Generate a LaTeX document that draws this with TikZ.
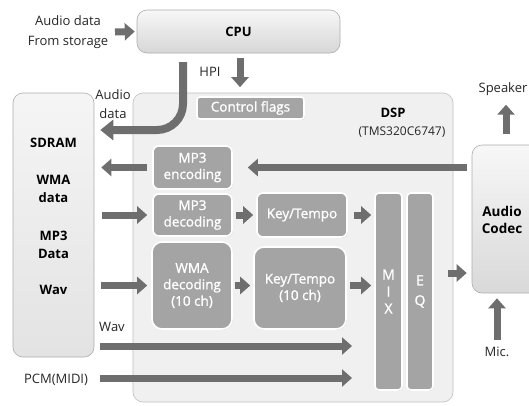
\documentclass[tikz,border=0pt]{standalone}
\usepackage{fontspec}
\setmainfont{Open Sans}
\newfontfamily\innerfont{Open Sans}[FakeBold=1.2]
\usetikzlibrary{arrows.meta,shadows}
\definecolor{arrowc}{HTML}{6E6E6E}
\definecolor{innerc}{HTML}{A4A4A4}
\definecolor{txtc}{HTML}{262626}
\tikzset{
  lbl/.style={font=\fontsize{13}{19.5}\selectfont, text=txtc, align=center, inner sep=0pt},
  blbl/.style={font=\bfseries\fontsize{13}{18}\selectfont, text=black, align=center, inner sep=0pt},
  outerbox/.style={draw=black!32, rounded corners=10pt, line width=0.6pt},
  innerbox/.style={fill=innerc, draw=white, line width=1.6pt, rounded corners=6pt, text=white, align=center,
    font=\innerfont\fontsize{13.5}{16.5}\selectfont, inner sep=0pt,
    drop shadow={opacity=0.25, shadow xshift=0.8pt, shadow yshift=-0.8pt}},
  barrow/.style={draw=arrowc, line width=7pt, -{Triangle[length=10pt,width=17pt]}},
}
\begin{document}
\begin{tikzpicture}[x=1pt,y=-1pt]
\useasboundingbox (0,0) rectangle (529,405);
% outer boxes
\node[outerbox, top color=black!3, bottom color=black!16, minimum width=203pt, minimum height=43pt,
  font=\bfseries\fontsize{13}{15}\selectfont] (cpu) at (238.5,31.5) {CPU};
\node[outerbox, fill=black!6, draw=black!25, minimum width=320pt, minimum height=309pt] (dsp) at (293,247.5) {};
\node[outerbox, top color=black!4, bottom color=black!11, minimum width=81pt, minimum height=264pt] (sdram) at (53.5,225) {};
\node[outerbox, top color=black!3, bottom color=black!15, minimum width=68pt, minimum height=148pt] (codec) at (506,219) {};
\node[blbl, font=\bfseries\fontsize{13.5}{17}\selectfont] (codect) at (502,220) {Audio\\Codec};
% sdram texts
\node[blbl] (t1) at (53.5,143) {SDRAM};
\node[blbl] (t2) at (53.5,189) {WMA\\data};
\node[blbl] (t3) at (53.5,245) {MP3\\Data};
\node[blbl] (t4) at (53.5,290) {Wav};
% dsp labels
\node[blbl] (dspl) at (393,113) {DSP};
\node[lbl, font=\fontsize{12}{15}\selectfont] (dspm) at (402,132) {(TMS320C6747)};
% inner boxes
\node[innerbox, minimum width=107pt, minimum height=22pt, rounded corners=3pt] (ctrl) at (250.5,108) {Control flags};
\node[innerbox, minimum width=79pt, minimum height=43pt] (enc) at (192.5,167.5) {MP3\\encoding};
\node[innerbox, minimum width=79pt, minimum height=42pt] (dec) at (192.5,215) {MP3\\decoding};
\node[innerbox, minimum width=90pt, minimum height=44pt] (kt) at (302,215) {Key/Tempo};
\node[innerbox, minimum width=80pt, minimum height=87pt, rounded corners=10pt] (wma) at (192,285.5) {WMA\\decoding\\(10 ch)};
\node[innerbox, minimum width=92pt, minimum height=82pt, rounded corners=10pt] (kt10) at (300,288) {Key/Tempo\\(10 ch)};
\node[innerbox, minimum width=27pt, minimum height=197pt, rounded corners=4pt, font=\innerfont\fontsize{14}{17}\selectfont] (mix) at (388.5,291.5) {M\\I\\X};
\node[innerbox, minimum width=26pt, minimum height=197pt, rounded corners=4pt, font=\innerfont\fontsize{14}{20}\selectfont] (eq) at (420,291.5) {E\\Q};
% free labels
\node[lbl] (store) at (68,32) {Audio data\\From storage};
\node[lbl] (hpi) at (210,72) {HPI};
\node[lbl] (adata) at (113,104) {Audio\\data};
\node[lbl] (spk) at (503,89) {Speaker};
\node[lbl] (mic) at (497,352) {Mic.};
\node[lbl] (wavl) at (112,327) {Wav};
\node[lbl] (pcm) at (56,380) {PCM(MIDI)};
% free ends
\coordinate (cA) at (183,62);
\coordinate (wavA) at (100,346);
\coordinate (wavB) at (352,346);
\coordinate (pcmA) at (100,378);
\coordinate (pcmB) at (352,378);
% arrows
\draw[barrow] (115,32) -- ([xshift=-2pt]cpu.west);
\draw[barrow] ([yshift=-5pt]cpu.south -| 240,0) -- ([yshift=9pt]ctrl.north -| 240,0);
\draw[barrow, line width=8pt, rounded corners=26pt, -{Triangle[length=13pt,width=20pt]}] (cA) |- ([xshift=6pt]sdram.east |- 0,130);
\draw[barrow] ([xshift=-5pt]codec.west |- enc.east) -- ([xshift=15pt]enc.east);
\draw[barrow] ([xshift=-5pt]enc.west) -- ([xshift=7pt]sdram.east |- enc.west);
\draw[barrow] ([xshift=8pt]sdram.east |- dec.west) -- ([xshift=-5pt]dec.west);
\draw[barrow] ([xshift=3pt]dec.east) -- ([xshift=-3pt]kt.west);
\draw[barrow] ([xshift=6pt]kt.east) -- ([xshift=-3pt]mix.west |- kt.east);
\draw[barrow] ([xshift=7pt]sdram.east |- wma.west) -- ([xshift=-4pt]wma.west);
\draw[barrow] ([xshift=2pt]wma.east) -- ([xshift=-3pt]kt10.west |- wma.east);
\draw[barrow] ([xshift=3pt]kt10.east |- wma.east) -- ([xshift=-3pt]mix.west |- wma.east);
\draw[barrow] ([xshift=14pt]eq.east |- 0,273) -- ([xshift=-5pt]codec.west |- 0,273);
\draw[barrow] (wavA) -- (wavB);
\draw[barrow] (pcmA) -- (pcmB);
\draw[barrow] ([yshift=11pt]codec.north) -- ([yshift=-9pt]spk.south -| codec.north);
\draw[barrow] ([yshift=7pt]mic.north) -- ([yshift=-5pt]codec.south -| mic.north);
\end{tikzpicture}
\end{document}
